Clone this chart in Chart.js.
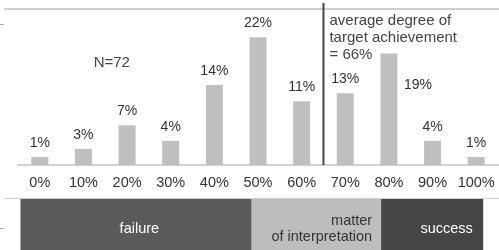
<!DOCTYPE html>
<html>
<head>
<meta charset="utf-8">
<script src="https://cdn.jsdelivr.net/npm/chart.js@4/dist/chart.umd.min.js"></script>
<style>
  html, body { margin: 0; padding: 0; background: #fff; }
  #marco { position: relative; width: 499px; height: 250px; overflow: hidden; font-family: "Liberation Sans", Arial, sans-serif; }
  #zonaBarras { position: absolute; left: 0; top: 0; width: 499px; height: 198px; }
  #zonaBanda { position: absolute; left: 0; top: 199px; width: 499px; height: 51px; }
  .raya { position: absolute; background: #cfcfcf; }
</style>
</head>
<body>
<div id="marco">
  <div class="raya" style="left:4px; top:8px; width:495px; height:2px;"></div>
  <div class="raya" style="left:0; top:24px; width:4px; height:1px; background:#aaa;"></div>
  <div class="raya" style="left:4px; top:198px; width:495px; height:1px;"></div>
  <div class="raya" style="left:0; top:228px; width:4px; height:1px; background:#aaa;"></div>
  <div id="zonaBarras"><canvas id="barras" width="499" height="198"></canvas></div>
  <div id="zonaBanda"><canvas id="banda" width="499" height="51"></canvas></div>
</div>
<script>
// Datos del gráfico
const categorias = ['0%', '10%', '20%', '30%', '40%', '50%', '60%', '70%', '80%', '90%', '100%']
const porcentajes = [1.4, 2.8, 6.9, 4.2, 13.9, 22.2, 11.1, 12.5, 19.4, 4.2, 1.4]
const etiquetas = ['1%', '3%', '7%', '4%', '14%', '22%', '11%', '13%', '19%', '4%', '1%']
const totalMuestra = 'N=72'
const promedio = 6.5 // posición de la media (66%) en el eje de categorías
const textoPromedio = ['average degree of', 'target achievement', '= 66%']

// Banda inferior: tramos en % del mismo eje
const tramosNombres = ['failure', 'matter of interpretation', 'success']
const tramos = [[-4.4, 48.4], [48.4, 78.2], [78.2, 101.6]]
const tramosColores = ['#5a5a5a', '#bdbdbd', '#454545']

const fuente = '"Liberation Sans", Arial, sans-serif'

// Plugin que escribe los valores, la línea de la media y N
const textosBarras = {
  id: 'textosBarras',
  afterDatasetsDraw(chart) {
    const ctx = chart.ctx
    const meta = chart.getDatasetMeta(0)
    const ejeX = chart.scales.x
    const area = chart.chartArea
    ctx.save()
    ctx.font = '14px ' + fuente
    ctx.fillStyle = '#333'
    ctx.textAlign = 'center'
    ctx.textBaseline = 'middle'
    meta.data.forEach((barra, i) => {
      if (i === 8) {
        ctx.fillText(etiquetas[i], barra.x + 29, barra.y + 32) // el 19% va al lado
      } else {
        ctx.fillText(etiquetas[i], barra.x, barra.y - 14)
      }
    })

    // Línea de la media
    const xMedia = ejeX.getPixelForValue(promedio)
    ctx.beginPath()
    ctx.moveTo(xMedia, 3)
    ctx.lineTo(xMedia, area.bottom)
    ctx.lineWidth = 2
    ctx.strokeStyle = '#444'
    ctx.stroke()

    ctx.font = '15px ' + fuente
    ctx.fillStyle = '#444'
    ctx.textAlign = 'left'
    textoPromedio.forEach((linea, i) => {
      ctx.fillText(linea, xMedia + 6, 21 + i * 17)
    })

    ctx.textAlign = 'center'
    ctx.fillText(totalMuestra, ejeX.getPixelForValue(1.65), 63)
    ctx.restore()
  }
}

new Chart(document.getElementById('barras'), {
  type: 'bar',
  data: {
    labels: categorias,
    datasets: [{
      data: porcentajes,
      backgroundColor: '#bfbfbf',
      barPercentage: 0.39,
      categoryPercentage: 1
    }]
  },
  options: {
    responsive: false,
    animation: false,
    layout: { padding: { left: 18, right: 1, top: 4, bottom: 0 } },
    plugins: { legend: { display: false }, tooltip: { enabled: false } },
    scales: {
      x: {
        grid: { display: false, drawTicks: false },
        border: { color: '#d0d0d0', width: 2 },
        ticks: {
          color: '#333', padding: 9, maxRotation: 0, minRotation: 0, autoSkip: false,
          font: { size: 14.5, family: fuente }
        },
        afterFit: (eje) => {
          eje.height = 33 // alto fijo del eje para dejar la base en 165
          eje.paddingLeft = 0
          eje.paddingRight = 0
        }
      },
      y: { display: false, min: 0, max: 28 }
    }
  },
  plugins: [textosBarras]
})

// Plugin para los textos de la banda
const textosBanda = {
  id: 'textosBanda',
  afterDatasetsDraw(chart) {
    const ctx = chart.ctx
    const ejeX = chart.scales.x
    ctx.save()
    ctx.font = '14.5px ' + fuente
    ctx.textBaseline = 'middle'
    ctx.fillStyle = '#fff'
    ctx.textAlign = 'center'
    ctx.fillText(tramosNombres[0], ejeX.getPixelForValue(22.8), 30)
    ctx.fillStyle = '#333'
    ctx.textAlign = 'right'
    ctx.fillText('matter', ejeX.getPixelForValue(76.2), 22)
    ctx.fillText('of interpretation', ejeX.getPixelForValue(76.2), 38)
    ctx.fillStyle = '#fff'
    ctx.fillText(tramosNombres[2], ejeX.getPixelForValue(99.3), 30)
    ctx.restore()
  }
}

new Chart(document.getElementById('banda'), {
  type: 'bar',
  data: {
    labels: [''],
    datasets: tramos.map((t, i) => ({
      label: tramosNombres[i],
      data: [t],
      backgroundColor: tramosColores[i],
      grouped: false,
      barPercentage: 1,
      categoryPercentage: 1
    }))
  },
  options: {
    indexAxis: 'y',
    responsive: false,
    animation: false,
    layout: { padding: 0 },
    plugins: { legend: { display: false }, tooltip: { enabled: false } },
    scales: {
      x: { display: false, min: -9.17, max: 105.3 },
      y: { display: false }
    }
  },
  plugins: [textosBanda]
})
</script>
</body>
</html>
